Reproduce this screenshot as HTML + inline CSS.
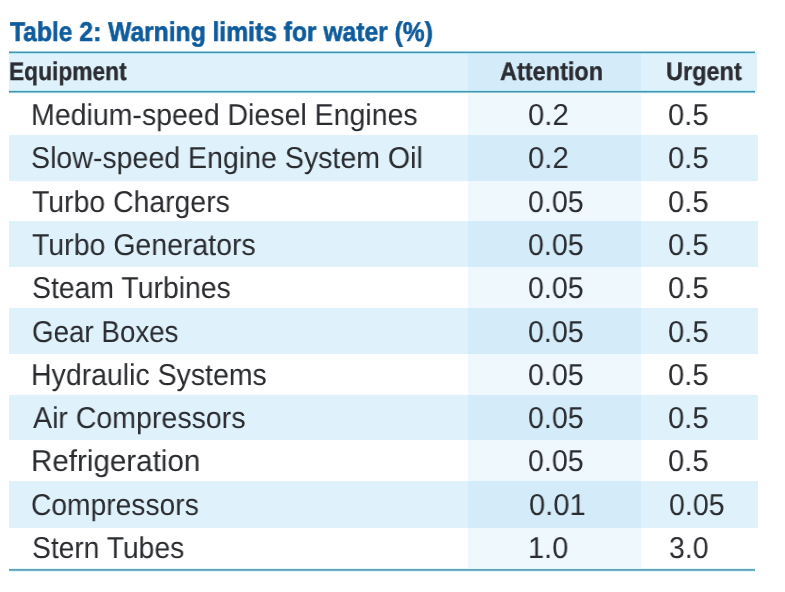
<!DOCTYPE html>
<html><head><meta charset="utf-8"><style>
html,body{margin:0;padding:0;background:#fff;}
body{width:785px;height:592px;position:relative;overflow:hidden;font-family:"Liberation Sans",sans-serif;}
.bg{position:absolute;}
.t{position:absolute;white-space:nowrap;line-height:0;transform-origin:0 0;text-rendering:geometricPrecision;will-change:transform;}
.b{font-size:30.2px;color:#2a2c30;}
.h{font-size:25.6px;font-weight:bold;color:#2b2d32;-webkit-text-stroke:0.35px #2b2d32;}
.ln{position:absolute;left:9px;width:746px;height:1px;background:#559fbc;}
</style></head><body>

<div class="t " style="left:9.73px;top:32.00px;transform:scaleX(0.9060);font-size:27.2px;font-weight:bold;color:#0f5c9c;-webkit-text-stroke:0.6px #0f5c9c">Table 2: Warning limits for water (%)</div>
<div class="bg" style="left:9px;top:52px;width:459px;height:40px;background:#dff1fb"></div>
<div class="bg" style="left:468px;top:52px;width:173px;height:40px;background:#d4ebf9"></div>
<div class="bg" style="left:641px;top:52px;width:116px;height:40px;background:#dff1fb"></div>
<div class="bg" style="left:468px;top:92px;width:173px;height:43px;background:#eef8fd"></div>
<div class="bg" style="left:9px;top:135px;width:459px;height:46px;background:#dff1fb"></div>
<div class="bg" style="left:468px;top:135px;width:173px;height:46px;background:#d4ebf9"></div>
<div class="bg" style="left:641px;top:135px;width:117px;height:46px;background:#dff1fb"></div>
<div class="bg" style="left:468px;top:181px;width:173px;height:40px;background:#eef8fd"></div>
<div class="bg" style="left:9px;top:221px;width:459px;height:46px;background:#dff1fb"></div>
<div class="bg" style="left:468px;top:221px;width:173px;height:46px;background:#d4ebf9"></div>
<div class="bg" style="left:641px;top:221px;width:117px;height:46px;background:#dff1fb"></div>
<div class="bg" style="left:468px;top:267px;width:173px;height:41px;background:#eef8fd"></div>
<div class="bg" style="left:9px;top:308px;width:459px;height:46px;background:#dff1fb"></div>
<div class="bg" style="left:468px;top:308px;width:173px;height:46px;background:#d4ebf9"></div>
<div class="bg" style="left:641px;top:308px;width:117px;height:46px;background:#dff1fb"></div>
<div class="bg" style="left:468px;top:354px;width:173px;height:41px;background:#eef8fd"></div>
<div class="bg" style="left:9px;top:395px;width:459px;height:45px;background:#dff1fb"></div>
<div class="bg" style="left:468px;top:395px;width:173px;height:45px;background:#d4ebf9"></div>
<div class="bg" style="left:641px;top:395px;width:117px;height:45px;background:#dff1fb"></div>
<div class="bg" style="left:468px;top:440px;width:173px;height:41px;background:#eef8fd"></div>
<div class="bg" style="left:9px;top:481px;width:459px;height:47px;background:#dff1fb"></div>
<div class="bg" style="left:468px;top:481px;width:173px;height:47px;background:#d4ebf9"></div>
<div class="bg" style="left:641px;top:481px;width:117px;height:47px;background:#dff1fb"></div>
<div class="bg" style="left:468px;top:528px;width:173px;height:41px;background:#eef8fd"></div>
<div class="ln" style="top:51px;background:#9ccadb"></div>
<div class="ln" style="top:52px;background:#4a93ae"></div>
<div class="ln" style="top:53px;background:#a9e9f7"></div>
<div class="ln" style="top:90px;background:#b3eefa"></div>
<div class="ln" style="top:91px;background:#4891ad"></div>
<div class="ln" style="top:92px;background:#8fc2d5"></div>
<div class="ln" style="top:93px;background:#eafafd"></div>
<div class="ln" style="top:568px;background:#e2fafd"></div>
<div class="ln" style="top:569px;background:#62a0b7"></div>
<div class="ln" style="top:570px;background:#78afc2"></div>
<div class="ln" style="top:571px;background:#dcf9fd"></div>
<div class="t h" style="left:9.14px;top:72.00px;transform:scaleX(0.8901);">Equipment</div>
<div class="t h" style="left:500.49px;top:72.00px;transform:scaleX(0.9174);">Attention</div>
<div class="t h" style="left:666.06px;top:72.00px;transform:scaleX(0.9186);">Urgent</div>
<div class="t b" style="left:31.25px;top:116.00px;transform:scaleX(0.9445);">Medium-speed Diesel Engines</div>
<div class="t b" style="left:528.40px;top:116.00px;transform:scaleX(0.9699);">0.2</div>
<div class="t b" style="left:668.41px;top:116.00px;transform:scaleX(0.9665);">0.5</div>
<div class="t b" style="left:31.35px;top:159.00px;transform:scaleX(0.9454);">Slow-speed Engine System Oil</div>
<div class="t b" style="left:528.40px;top:159.00px;transform:scaleX(0.9698);">0.2</div>
<div class="t b" style="left:668.43px;top:159.00px;transform:scaleX(0.9670);">0.5</div>
<div class="t b" style="left:31.90px;top:203.00px;transform:scaleX(0.9406);">Turbo Chargers</div>
<div class="t b" style="left:528.33px;top:203.00px;transform:scaleX(0.9467);">0.05</div>
<div class="t b" style="left:668.41px;top:203.00px;transform:scaleX(0.9665);">0.5</div>
<div class="t b" style="left:31.86px;top:246.00px;transform:scaleX(0.9434);">Turbo Generators</div>
<div class="t b" style="left:528.35px;top:246.00px;transform:scaleX(0.9469);">0.05</div>
<div class="t b" style="left:668.43px;top:246.00px;transform:scaleX(0.9670);">0.5</div>
<div class="t b" style="left:31.50px;top:289.00px;transform:scaleX(0.9403);">Steam Turbines</div>
<div class="t b" style="left:528.33px;top:289.00px;transform:scaleX(0.9467);">0.05</div>
<div class="t b" style="left:668.41px;top:289.00px;transform:scaleX(0.9665);">0.5</div>
<div class="t b" style="left:31.63px;top:333.00px;transform:scaleX(0.9188);">Gear Boxes</div>
<div class="t b" style="left:528.35px;top:333.00px;transform:scaleX(0.9469);">0.05</div>
<div class="t b" style="left:668.43px;top:333.00px;transform:scaleX(0.9670);">0.5</div>
<div class="t b" style="left:31.25px;top:376.00px;transform:scaleX(0.9433);">Hydraulic Systems</div>
<div class="t b" style="left:528.33px;top:376.00px;transform:scaleX(0.9467);">0.05</div>
<div class="t b" style="left:668.41px;top:376.00px;transform:scaleX(0.9665);">0.5</div>
<div class="t b" style="left:32.63px;top:419.00px;transform:scaleX(0.9456);">Air Compressors</div>
<div class="t b" style="left:528.35px;top:419.00px;transform:scaleX(0.9469);">0.05</div>
<div class="t b" style="left:668.43px;top:419.00px;transform:scaleX(0.9670);">0.5</div>
<div class="t b" style="left:31.04px;top:462.00px;transform:scaleX(0.9797);">Refrigeration</div>
<div class="t b" style="left:528.33px;top:462.00px;transform:scaleX(0.9467);">0.05</div>
<div class="t b" style="left:668.41px;top:462.00px;transform:scaleX(0.9665);">0.5</div>
<div class="t b" style="left:31.15px;top:506.00px;transform:scaleX(0.9347);">Compressors</div>
<div class="t b" style="left:528.80px;top:506.00px;transform:scaleX(0.9640);">0.01</div>
<div class="t b" style="left:668.72px;top:506.00px;transform:scaleX(0.9453);">0.05</div>
<div class="t b" style="left:31.51px;top:549.00px;transform:scaleX(0.9348);">Stern Tubes</div>
<div class="t b" style="left:528.34px;top:549.00px;transform:scaleX(0.9591);">1.0</div>
<div class="t b" style="left:668.80px;top:549.00px;transform:scaleX(0.9405);">3.0</div>
</body></html>
